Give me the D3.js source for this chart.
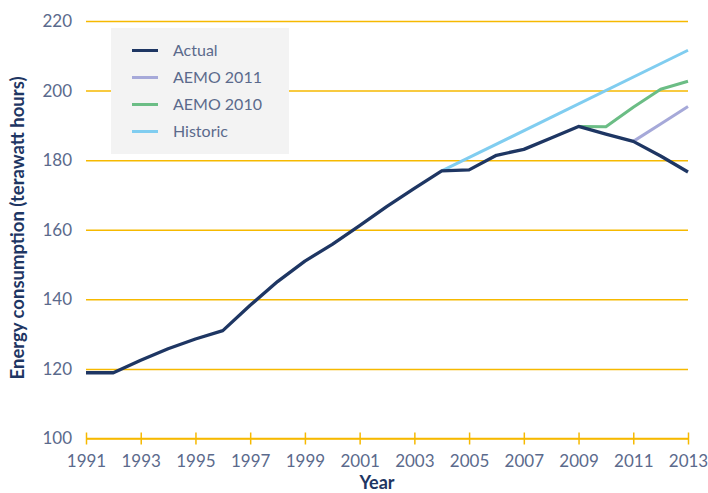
<!DOCTYPE html>
<html><head><meta charset="utf-8">
<script src="https://cdn.jsdelivr.net/npm/d3@7/dist/d3.min.js"></script>
<style>
body{margin:0;background:#fff;}
svg{display:block;font-family:Lato, "Open Sans", sans-serif;}
</style></head>
<body><svg id="c" width="708" height="493"></svg>
<script>
const years = [1991,1992,1993,1994,1995,1996,1997,1998,1999,2000,2001,2002,2003,2004,2005,2006,2007,2008,2009,2010,2011,2012,2013];
const actual = [118.9,118.9,122.5,125.8,128.6,131.0,138.3,145.1,151.0,155.8,161.2,166.7,171.9,176.9,177.2,181.4,183.1,186.4,189.7,187.5,185.4,181.2,176.6];
const aemo2011Years = [2011,2012,2013];
const aemo2011 = [185.4,190.4,195.4];
const aemo2010Years = [2009,2010,2011,2012,2013];
const aemo2010 = [189.7,189.6,195.2,200.4,202.7];
const historicYears = [2004,2013];
const historic = [176.9,211.6];
const yTicks = [100,120,140,160,180,200,220];
const xTicks = [1991,1993,1995,1997,1999,2001,2003,2005,2007,2009,2011,2013];
const seriesNames = ["Actual","AEMO 2011","AEMO 2010","Historic"];
const seriesColors = ["#1e3663","#a6a9d9","#6bbd85","#80cdf0"];

const svg = d3.select("#c");
const x = d3.scaleLinear().domain([1991,2013]).range([86,688]);
const y = d3.scaleLinear().domain([100,220]).range([438.5,21]);
const grid = "#f6b900";
const labelColor = "#5b6a8c";

// gridlines + y labels
const yAxis = d3.axisLeft(y).tickValues(yTicks).tickSize(-(688-86)).tickPadding(14).tickFormat(d3.format("d"));
const gy = svg.append("g").attr("transform","translate(86,0)").call(yAxis);
gy.select(".domain").remove();
gy.selectAll(".tick line").attr("stroke",grid).attr("stroke-width",1.5);
gy.selectAll(".tick text").attr("fill",labelColor).attr("font-size",17).attr("font-family","Lato, 'Open Sans', sans-serif").attr("x",-14);

// x axis
const xAxis = d3.axisBottom(x).tickValues(xTicks).tickSize(6).tickPadding(10).tickFormat(d3.format("d"));
const gx = svg.append("g").attr("transform",`translate(0,${y(100)})`).call(xAxis);
gx.select(".domain").attr("stroke",grid).attr("stroke-width",1.5).attr("d",`M${x(1991)},0H${x(2013)}`);
gx.selectAll(".tick line").attr("stroke",grid).attr("stroke-width",1.5).attr("y1",-6).attr("y2",6);
gx.selectAll(".tick text").attr("fill",labelColor).attr("font-size",17).attr("font-family","Lato, 'Open Sans', sans-serif");

// lines
const line = d3.line().x(d=>x(d[0])).y(d=>y(d[1]));
const pairs = (xs,vs)=>xs.map((v,i)=>[v,vs[i]]);
const draw = (data,color,w)=>svg.append("path").datum(data).attr("fill","none").attr("stroke",color).attr("stroke-width",w).attr("stroke-linejoin","round").attr("d",line);
draw(pairs(historicYears,historic),seriesColors[3],3);
draw(pairs(aemo2010Years,aemo2010),seriesColors[2],3);
draw(pairs(aemo2011Years,aemo2011),seriesColors[1],3);
draw(pairs(years,actual),seriesColors[0],3.3);

// legend
const lg = svg.append("g");
lg.append("rect").attr("x",111).attr("y",28).attr("width",178).attr("height",126).attr("fill","#f3f3f3");
seriesNames.forEach((n,i)=>{
  const yy = 50.5 + i*27;
  lg.append("line").attr("x1",132).attr("x2",158).attr("y1",yy).attr("y2",yy).attr("stroke",seriesColors[i]).attr("stroke-width",3);
  lg.append("text").attr("x",173).attr("y",yy).attr("dy","0.35em").attr("fill",labelColor).attr("font-size",16).text(n);
});

// axis titles
svg.append("text").attr("x",377).attr("y",489).attr("text-anchor","middle").attr("font-weight","bold").attr("font-size",18).attr("fill","#1e3663").text("Year");
svg.append("text").attr("transform","translate(24,228) rotate(-90)").attr("text-anchor","middle").attr("font-weight","bold").attr("font-size",18.5).attr("fill","#1e3663").text("Energy consumption (terawatt hours)");
</script></body></html>
